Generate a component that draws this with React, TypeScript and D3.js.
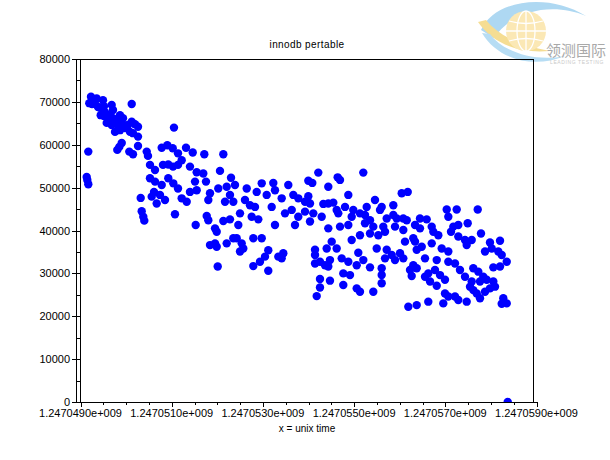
import { scaleLinear, range } from 'd3'

const t0 = 1247049000
const title = 'innodb pertable'
const xLabel = 'x = unix time'

// [seconds since t0, value]
const points: [number, number][] = [
  [230, 71200], [355, 70800], [193, 69700], [318, 69500], [493, 70400], [428, 68600], [537, 67600],
  [684, 69300], [713, 68100], [603, 66200], [575, 65100], [684, 64600], [794, 65800], [932, 66200],
  [904, 65100], [757, 63000], [866, 63400], [1013, 64200], [1123, 65400], [1195, 64800], [1261, 64200],
  [1086, 63000], [1151, 62700], [1261, 61900], [1123, 69500], [2050, 64000], [443, 66900],
  [274, 70400], [384, 68800], [515, 69000], [647, 66900], [713, 66200], [822, 64600], [976, 63900],
  [1042, 64600], [515, 66700], [866, 66900], [252, 69500],
  [171, 58400], [136, 52500], [149, 51800], [171, 50800], [904, 60400], [851, 59500], [807, 58800],
  [1070, 58400], [1151, 57800], [1261, 59700], [1452, 58400], [1480, 57400], [1781, 59300], [1904, 59900],
  [2022, 59200], [2138, 58000], [2314, 59300], [2461, 58200], [1524, 55300], [1634, 54100], [1809, 55300],
  [1925, 55400], [2029, 54900], [2138, 55300], [2219, 56400], [2401, 54900], [2548, 53600], [1524, 52200],
  [1634, 51400], [1925, 52200], [2035, 51000], [2138, 49800], [1781, 50600], [1612, 49000], [1561, 47900],
  [1743, 48300], [1671, 46300], [1853, 47100], [2219, 47500], [2329, 46700], [2401, 49000], [2511, 51400],
  [2548, 49400], [1320, 47600], [1342, 44500], [1377, 43200], [1399, 42300], [2072, 43800], [2526, 41300],
  [2715, 57800], [3132, 57800], [3059, 53900], [2693, 53300], [2752, 51400], [3301, 52300], [2840, 48700],
  [2803, 47100], [3022, 49800], [3206, 50200], [3388, 50600], [3278, 48300], [3169, 46700], [3351, 46700],
  [3645, 49800], [3607, 47100], [3717, 45900], [3864, 49000], [3974, 51000], [4083, 48300], [4228, 51100],
  [4265, 49400], [4193, 45500], [4412, 47500], [4557, 50600], [4667, 48300], [4776, 47500], [4485, 44000],
  [4632, 44800], [4776, 43200], [4704, 41300], [4265, 41300], [3827, 45500], [2768, 43400], [2803, 42400],
  [3132, 42200], [3278, 42600], [3498, 44000], [3461, 41300], [3754, 43200], [3899, 42600], [2950, 40500],
  [2987, 39700], [2840, 36600], [2950, 37000], [2987, 36200], [3206, 37000], [3351, 38200], [3425, 38200],
  [3535, 37000], [3570, 35800], [3498, 35100], [3790, 38200], [3974, 38200], [4118, 35400], [4046, 33900],
  [3936, 32700], [4118, 30600], [3790, 31700], [3009, 31600], [4338, 33900], [4447, 34700], [4412, 33500],
  [5215, 53500], [6202, 53500], [4996, 51600], [5083, 51100], [5640, 52400], [5691, 51800], [5434, 50200],
  [5873, 48300], [7044, 48700], [7176, 49000], [4996, 48000], [4923, 46700], [5033, 46300], [5325, 46200],
  [5434, 46300], [5544, 46500], [5801, 45500], [5618, 44800], [5653, 44000], [5982, 44800], [6276, 45500],
  [6458, 47100], [6605, 45500], [6568, 44800], [6860, 45900], [4923, 44400], [5105, 44000], [5289, 43200],
  [5033, 42100], [5947, 43200], [6129, 44000], [6239, 43600], [6349, 42400], [6239, 41700], [6421, 40900],
  [5873, 41300], [5691, 40900], [5434, 40500], [6715, 42800], [6860, 43600], [6934, 42800], [7079, 42800],
  [7154, 42400], [6897, 40900], [7079, 40100], [6640, 40900], [6678, 39700], [6349, 39300], [6531, 38900],
  [6129, 38900], [5947, 37800], [7116, 37400], [7298, 38200], [5509, 37400], [5399, 35800], [5618, 35800],
  [5143, 35500], [5143, 34300], [6092, 34800], [6496, 35800], [6715, 35500], [6825, 34300], [6678, 33500],
  [7007, 34700], [7079, 33500], [6897, 33100], [5143, 32300], [5252, 32700], [5362, 31900], [5471, 33100],
  [5434, 31600], [5728, 33500], [5873, 32700], [6057, 31900], [6202, 33100], [6349, 31400], [6605, 31200],
  [7298, 31900], [7226, 30800], [7263, 29400], [5763, 30000], [5910, 29600], [6605, 29600], [6605, 27700],
  [5252, 28700], [5471, 28300], [5252, 26700], [5763, 27300], [6057, 26500], [6129, 25700], [6421, 25700],
  [5180, 24700], [7189, 22200],
  [8031, 44900], [8250, 44900], [8711, 44900], [8066, 43200], [7445, 42800], [7592, 42600], [7336, 41300],
  [7445, 40500], [7702, 40900], [7737, 39700], [7847, 38900], [8176, 40900], [8285, 41300], [8491, 41700],
  [8125, 39700], [8285, 38600], [8432, 37800], [8579, 37800], [8469, 36600], [8783, 39300], [7336, 37400],
  [7483, 36200], [7373, 35500], [7702, 37000], [7921, 35800], [8066, 35100], [8980, 37200], [9200, 37600],
  [8871, 35100], [9018, 35800], [9162, 35100], [9237, 34300], [9347, 32700], [9200, 31600], [9053, 31400],
  [7555, 33500], [7812, 33100], [8066, 32700], [8213, 32300], [7373, 31200], [7627, 30000], [7774, 30800],
  [7884, 29600], [7555, 29200], [7665, 28100], [7993, 28500], [7812, 27100], [8322, 30800], [8432, 29200],
  [8614, 31200], [8724, 30400], [8833, 29200], [8908, 28500], [8579, 28100], [8542, 26900], [8761, 28100],
  [9053, 28100], [9090, 26900], [8980, 26500], [8689, 25300], [8614, 26100], [8871, 25700], [8761, 24200],
  [7993, 25300], [8066, 24600], [8213, 24600], [7956, 23000], [8285, 23800], [8469, 23400], [7373, 22600],
  [7627, 23400], [9272, 24200], [9237, 22900], [9347, 23000],
  [9369, 0],
]

const yMajor = range(0, 80001, 10000)
const yMinor = range(5000, 80000, 10000)
const xMajor = range(0, 10001, 2000)
const xMinor = range(0, 10001, 500).filter((d) => d % 2000 !== 0)

const width = 610
const height = 460
const frame = { left: 80.5, top: 59, right: 533, bottom: 402 }
const font = '"Liberation Sans", Arial, sans-serif'

const x = scaleLinear().domain([0, 10000]).range([80.5, 536.5])
const y = scaleLinear().domain([0, 80000]).range([frame.bottom, frame.top])

const sci = (v: number) => {
  const exp = Math.floor(Math.log10(v))
  const mant = (v / 10 ** exp).toFixed(7)
  return `${mant}e+${String(exp).padStart(3, '0')}`
}

// faint watermark, top right
const Logo = () => (
  <g opacity={0.9}>
    <path d="M481,30 C494,0 548,-8 586,16 C556,3 514,8 494,38 Z" fill="#a6d4f1" />
    <path d="M478,22 C492,42 516,54 550,51 C521,46 499,36 486,20 Z" fill="#f5da88" />
    <path d="M482,33 C498,60 534,69 565,56 C536,62 504,53 490,34 Z" fill="#b0daf3" />
    <circle cx={526} cy={31} r={20} fill="#fbe6ad" />
    <g stroke="#ffffff" strokeWidth={1.3} fill="none">
      <ellipse cx={526} cy={31} rx={9} ry={20} />
      <line x1={526} y1={11} x2={526} y2={51} />
      <line x1={506} y1={31} x2={546} y2={31} />
      <path d="M509,21 Q526,26 543,21" />
      <path d="M509,41 Q526,36 543,41" />
    </g>
    <text x={576} y={56} textAnchor="middle" fontSize={15} fill="#a0a0a0"
      fontFamily='"Noto Sans CJK SC", sans-serif'>领测国际</text>
    <text x={577} y={64} textAnchor="middle" fontSize={5} fill="#c4c4c4" letterSpacing={0.6}
      fontFamily={font}>LEADING TESTING</text>
  </g>
)

const App = () => (
  <svg width={width} height={height} viewBox={`0 0 ${width} ${height}`}
    style={{ position: 'absolute', left: 0, top: 0, background: '#fff' }} fontFamily={font}>
    <defs>
      <clipPath id="plot">
        <rect x={frame.left} y={frame.top} width={frame.right - frame.left} height={frame.bottom - frame.top} />
      </clipPath>
    </defs>
    <rect width={width} height={height} fill="#fff" />
    <Logo />

    <text x={307} y={48} textAnchor="middle" fontSize={10} letterSpacing={0.4} fill="#000">{title}</text>

    <g clipPath="url(#plot)">
      {points.map(([t, v], i) => (
        <circle key={i} cx={x(t)} cy={y(v)} r={4.2} fill="#0000ff" />
      ))}
    </g>

    <g stroke="#000" strokeWidth={1} fill="none" shapeRendering="crispEdges">
      <line x1={frame.left} y1={frame.top} x2={frame.right} y2={frame.top} />
      <line x1={frame.right} y1={frame.top} x2={frame.right} y2={frame.bottom} />
      <line x1={frame.left} y1={frame.top} x2={frame.left} y2={frame.bottom} />
      <line x1={76.5} y1={frame.top} x2={76.5} y2={frame.bottom} />
      <line x1={frame.left} y1={frame.bottom} x2={x(10000)} y2={frame.bottom} />
      {yMajor.map((d) => (
        <line key={`ym${d}`} x1={72} y1={Math.round(y(d)) + 0.5} x2={frame.left} y2={Math.round(y(d)) + 0.5} />
      ))}
      {yMinor.map((d) => (
        <line key={`yn${d}`} x1={76.5} y1={Math.round(y(d)) + 0.5} x2={frame.left} y2={Math.round(y(d)) + 0.5} />
      ))}
      {xMajor.map((d) => (
        <line key={`xm${d}`} x1={Math.round(x(d)) + 0.5} y1={frame.bottom} x2={Math.round(x(d)) + 0.5} y2={frame.bottom + 5} />
      ))}
      {xMinor.map((d) => (
        <line key={`xn${d}`} x1={Math.round(x(d)) + 0.5} y1={frame.bottom} x2={Math.round(x(d)) + 0.5} y2={frame.bottom + 3} />
      ))}
    </g>

    <g fontSize={11} fill="#000">
      {yMajor.map((d) => (
        <text key={`yl${d}`} x={70} y={y(d) + 4} textAnchor="end">{d}</text>
      ))}
      {xMajor.map((d) => (
        <text key={`xl${d}`} x={x(d)} y={417} textAnchor="middle">{sci(t0 + d)}</text>
      ))}
    </g>

    <text x={307} y={432} textAnchor="middle" fontSize={10} fill="#000">{xLabel}</text>
  </svg>
)

export default App
